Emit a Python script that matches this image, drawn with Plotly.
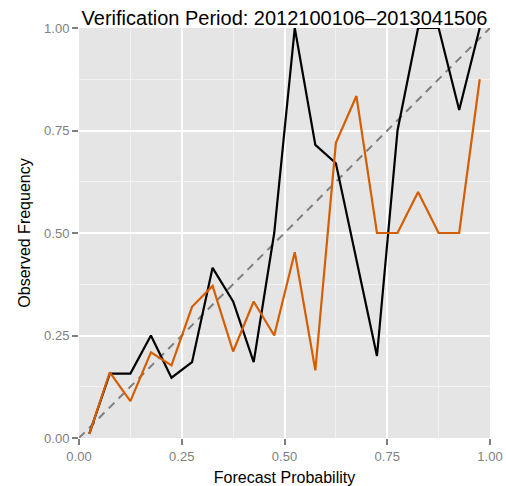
import plotly.graph_objects as go

# Forecast probability bin midpoints
forecast_prob = [0.025, 0.075, 0.125, 0.175, 0.225, 0.275, 0.325, 0.375, 0.425, 0.475,
                 0.525, 0.575, 0.625, 0.675, 0.725, 0.775, 0.825, 0.875, 0.925, 0.975]

# Observed frequency, black series
obs_black = [0.01, 0.157, 0.157, 0.25, 0.147, 0.185, 0.415, 0.333, 0.185, 0.5,
             1.0, 0.715, 0.67, 0.435, 0.2, 0.75, 1.0, 1.0, 0.8, 1.0]

# Observed frequency, orange series
obs_orange = [0.01, 0.16, 0.09, 0.209, 0.177, 0.32, 0.371, 0.211, 0.333, 0.25,
              0.453, 0.165, 0.72, 0.834, 0.5, 0.5, 0.6, 0.5, 0.5, 0.875]

# Perfect reliability diagonal
diag_x = [0, 1]
diag_y = [0, 1]

tick_vals = [0, 0.25, 0.5, 0.75, 1.0]
tick_text = ["0.00", "0.25", "0.50", "0.75", "1.00"]

FONT = "Liberation Sans, Arial, Helvetica, sans-serif"

W, H = 506, 486

fig = go.Figure()
fig.add_trace(go.Scatter(x=diag_x, y=diag_y, mode="lines",
                         line=dict(color="#7f7f7f", width=2, dash="8px,6px"),
                         showlegend=False, hoverinfo="skip"))
fig.add_trace(go.Scatter(x=forecast_prob, y=obs_black, mode="lines",
                         line=dict(color="#000000", width=2.2), showlegend=False))
fig.add_trace(go.Scatter(x=forecast_prob, y=obs_orange, mode="lines",
                         line=dict(color="#D55E00", width=2.2), showlegend=False))

axis_common = dict(
    range=[0, 1],
    tickvals=tick_vals,
    ticktext=tick_text,
    showgrid=True,
    gridcolor="#FFFFFF",
    gridwidth=2,
    zeroline=False,
    showline=False,
    ticks="outside",
    ticklen=6,
    tickwidth=1.5,
    tickcolor="#7f7f7f",
    tickfont=dict(family=FONT, size=13, color="#7f7f7f"),
    minor=dict(tickvals=[0.125, 0.375, 0.625, 0.875], showgrid=True,
               gridcolor="#F2F2F2", gridwidth=1, ticks=""),
)

fig.update_layout(
    width=W, height=H,
    margin=dict(l=78.5, r=15.7, t=28, b=47.5, autoexpand=False),
    paper_bgcolor="#FFFFFF",
    plot_bgcolor="#E5E5E5",
    font=dict(family=FONT),
    title=dict(text="Verification Period: 2012100106\u20132013041506",
               font=dict(family=FONT, size=20, color="#000000"),
               x=284.5 / W, xref="container", xanchor="center",
               y=1 - 17.6 / H, yref="container", yanchor="middle"),
    xaxis=dict(axis_common,
               title=dict(text="Forecast Probability",
                          font=dict(family=FONT, size=16, color="#000000"),
                          standoff=10)),
    yaxis=dict(axis_common,
               title=dict(text="Observed Frequency",
                          font=dict(family=FONT, size=16, color="#000000"),
                          standoff=9)),
)

fig.write_html(
    "out.html",
    config={"displayModeBar": False},
    post_script="document.body.style.margin='0';document.body.style.overflow='hidden';",
)
